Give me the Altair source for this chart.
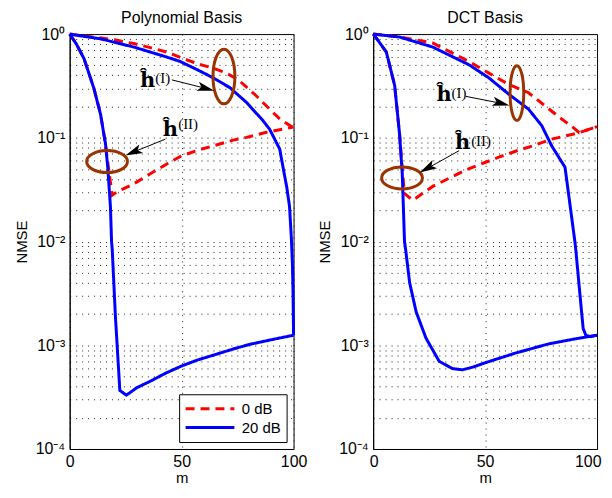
import altair as alt
import pandas as pd

# ---------------- data ----------------
# Polynomial basis
poly_20_I_m = [0, 5, 13.8, 28.6, 43.4, 49.3, 58.2, 64.1, 71.6, 79, 86.4, 89.3, 93.8, 95.3, 97, 98.2, 99, 99.5, 99.8, 100]
poly_20_I_v = [1, .96, .90, .75, .60, .545, .44, .378, .304, .219, .146, .121, .078, .052, .033, .0217, .011, .006, .003, .00125]
poly_20_II_m = [0, 3, 6.4, 10.8, 13.8, 16, 17, 18.2, 18.7, 19, 20.4, 22.4, 25.3, 30, 36, 43, 49.9, 57, 65.6, 73, 80.4, 90, 100]
poly_20_II_v = [1, .8, .58, .30, .168, .087, .052, .0217, .01, .0084, .00194, .000367, .00033, .00039, .00045, .00054, .00063, .00072, .00082, .00092, .00102, .00113, .00125]
poly_0_I_m = [0, 10, 20, 28.6, 36, 43.4, 52.3, 58, 64.1, 70, 75.2, 83.4, 89.3, 93.8, 100]
poly_0_I_v = [1, .94, .88, .81, .74, .67, .565, .51, .47, .42, .364, .253, .189, .152, .125]
poly_0_II_m = [0, 3, 6.4, 10.8, 13.8, 16, 17, 18, 19, 21, 28.6, 36, 43.4, 50, 58.2, 62.7, 73, 79, 87.9, 100]
poly_0_II_v = [1, .8, .58, .30, .168, .087, .058, .04, .028, .03, .036, .045, .056, .067, .077, .082, .095, .101, .113, .127]

# DCT basis
dct_20_I_m = [0, 11.8, 26.6, 42.8, 51.7, 60.6, 69.4, 75.3, 79.7, 85.7, 88, 90.1, 90.5, 92.3, 93.8, 95, 97, 100]
dct_20_I_v = [1, .936, .75, .506, .378, .263, .189, .131, .084, .052, .022, .01, .0084, .0032, .00145, .00125, .00121, .00125]
dct_20_II_m = [0, 2, 5.9, 9.6, 11.8, 13, 14, 14.5, 16.3, 19.2, 23.6, 29.5, 35.4, 39.9, 45, 50.2, 63.5, 78.3, 90, 100]
dct_20_II_v = [1, .88, .67, .32, .108, .045, .01, .0084, .004, .0021, .00117, .0007, .000596, .00058, .00062, .00068, .00084, .00103, .00115, .00125]
dct_0_I_m = [0, 11.8, 26.6, 42.8, 51.7, 60.6, 69.4, 76.8, 84.2, 90.1, 92, 96, 100]
dct_0_I_v = [1, .94, .82, .545, .42, .327, .272, .203, .152, .122, .112, .12, .128]
dct_0_II_m = [0, 2, 5.9, 9.6, 11.8, 13, 13.3, 14, 17.7, 26.6, 41.4, 56.1, 65, 70.9, 79.7, 85.7, 92, 100]
dct_0_II_v = [1, .88, .67, .32, .108, .05, .042, .029, .025, .034, .049, .065, .076, .083, .097, .104, .112, .128]

snr_labels = ["0 dB", "20 dB"]
panel_titles = ["Polynomial Basis", "DCT Basis"]
y_major = [1e-4, 1e-3, 1e-2, 1e-1, 1]
y_major_text = ["10\u207b\u2074", "10\u207b\u00b3", "10\u207b\u00b2", "10\u207b\u00b9", "10\u2070"]
x_ticks = [0, 50, 100]

# annotations: ellipse centres, text anchors, arrows (data coordinates)
poly_ell_I = (68.9, 0.39)
poly_ell_II = (16.7, 0.059)
dct_ell_I = (64.2, 0.27)
dct_ell_II = (12.9, 0.041)
poly_txt = [("I", 34.8, 0.349, 41.6, 0.375), ("II", 45.0, 0.119, 52.9, 0.135)]
dct_txt = [("I", 31.7, 0.256, 38.3, 0.27), ("II", 40.0, 0.0887, 48.2, 0.0936)]
poly_arrows = [(45.6, 0.362, 60.9, 0.299, 105), (42.7, 0.097, 28.4, 0.0728, 247)]
dct_arrows = [(41.4, 0.251, 57.2, 0.215, 104), (38.4, 0.0752, 24.2, 0.0507, 241)]

# ---------------- styling ----------------
FONT = "Liberation Sans"
RED, BLUE, BROWN = "#ff0000", "#0000ff", "#993300"
ARROW = "M0,-1 L0.55,1 L0,0.55 L-0.55,1 Z"


def ellipse_path(rx, ry):
    return (f"M0,{-ry} A{rx},{ry} 0 1,1 0,{ry} A{rx},{ry} 0 1,1 0,{-ry} Z")


y_minor = []
for e in [1e-4, 1e-3, 1e-2, 1e-1]:
    for k in range(1, 10):
        y_minor.append(round(k * e, 6))
y_minor.append(1)

label_expr = "''"
for val, txt in zip(y_major, y_major_text):
    label_expr = f"abs(datum.value - {val}) < {val}*1e-3 ? '{txt}' : ({label_expr})"

x_scale = alt.Scale(domain=[0, 100], nice=False, zero=False)
y_scale = alt.Scale(type="log", domain=[1e-4, 1], nice=False)


def curves_df(parts):
    rows = []
    for snr, name, ms, vs in parts:
        for m, v in zip(ms, vs):
            rows.append({"m": m, "nmse": v, "snr": snr, "curve": snr + name})
    return pd.DataFrame(rows)


def panel(title, df, ell_I, ell_II, rx_I, texts, arrows, show_legend, flush):
    if show_legend:
        leg = alt.Legend(title=None, orient="bottom-right", offset=7, symbolType="stroke",
                         symbolSize=2400, symbolStrokeWidth=3, labelFont=FONT, labelFontSize=15,
                         fillColor="white", strokeColor="black", padding=5, rowPadding=0,
                         clipHeight=19, labelOffset=6)
    else:
        leg = None
    xkw = dict(labelFlush=True, labelFlushOffset=4) if flush else dict(labelFlush=False)
    xax = alt.Axis(values=x_ticks, title="m", grid=True, gridDash=[1, 5], gridColor="#222",
                   ticks=False, labelFont=FONT, labelFontSize=16, labelPadding=5,
                   titleFont=FONT, titleFontSize=15, titleFontWeight="normal", titlePadding=1,
                   domainColor="black", **xkw)
    yax = alt.Axis(values=y_minor, labelExpr=label_expr, labelOverlap=False, title="NMSE",
                   grid=True, gridDash=[1, 5], gridColor="#222", ticks=False,
                   labelFont=FONT, labelFontSize=16, labelPadding=5,
                   titleFont=FONT, titleFontSize=15, titleFontWeight="normal", titlePadding=6,
                   domainColor="black")
    lines = alt.Chart(df).mark_line(strokeWidth=3).encode(
        x=alt.X("m:Q", scale=x_scale, axis=xax),
        y=alt.Y("nmse:Q", scale=y_scale, axis=yax),
        color=alt.Color("snr:N", scale=alt.Scale(domain=snr_labels, range=[RED, BLUE]), legend=leg),
        strokeDash=alt.StrokeDash("snr:N", scale=alt.Scale(domain=snr_labels, range=[[9, 6], [1, 0]]), legend=leg),
        detail="curve:N",
    )
    eI = alt.Chart(pd.DataFrame([{"m": ell_I[0], "nmse": ell_I[1]}])).mark_point(
        shape=ellipse_path(rx_I, 1), size=3025, filled=False, stroke=BROWN, strokeWidth=3, opacity=1
    ).encode(x=alt.X("m:Q", scale=x_scale), y=alt.Y("nmse:Q", scale=y_scale))
    eII = alt.Chart(pd.DataFrame([{"m": ell_II[0], "nmse": ell_II[1]}])).mark_point(
        shape=ellipse_path(1, 0.54), size=1681, filled=False, stroke=BROWN, strokeWidth=3, opacity=1
    ).encode(x=alt.X("m:Q", scale=x_scale), y=alt.Y("nmse:Q", scale=y_scale))
    adf = pd.DataFrame([{"m": a[0], "nmse": a[1], "m2": a[2], "nmse2": a[3], "ang": a[4]} for a in arrows])
    arr_line = alt.Chart(adf).mark_rule(color="black", strokeWidth=1).encode(
        x=alt.X("m:Q", scale=x_scale), y=alt.Y("nmse:Q", scale=y_scale), x2="m2:Q", y2="nmse2:Q")
    arr_head = alt.Chart(adf).mark_point(shape=ARROW, size=300, filled=True, color="black", opacity=1).encode(
        x=alt.X("m2:Q", scale=x_scale), y=alt.Y("nmse2:Q", scale=y_scale), angle=alt.Angle("ang:Q", scale=None))
    tdf = pd.DataFrame([{"m": t[1], "nmse": t[2], "m2": t[3], "nmse2": t[4], "sup": f"({t[0]})", "h": "\u0125"} for t in texts])
    h_txt = alt.Chart(tdf).mark_text(font="DejaVu Serif", fontWeight="bold", fontSize=21, color="black").encode(
        x=alt.X("m:Q", scale=x_scale), y=alt.Y("nmse:Q", scale=y_scale), text="h:N")
    s_txt = alt.Chart(tdf).mark_text(font="Liberation Serif", fontSize=15, color="black").encode(
        x=alt.X("m2:Q", scale=x_scale), y=alt.Y("nmse2:Q", scale=y_scale), text="sup:N")
    return alt.layer(lines, eI, eII, arr_line, arr_head, h_txt, s_txt).properties(
        width=225, height=417,
        title=alt.TitleParams(title, font=FONT, fontSize=16, fontWeight="normal", offset=0))


poly_df = curves_df([
    ("0 dB", "I", poly_0_I_m, poly_0_I_v), ("0 dB", "II", poly_0_II_m, poly_0_II_v),
    ("20 dB", "I", poly_20_I_m, poly_20_I_v), ("20 dB", "II", poly_20_II_m, poly_20_II_v)])
dct_df = curves_df([
    ("0 dB", "I", dct_0_I_m, dct_0_I_v), ("0 dB", "II", dct_0_II_m, dct_0_II_v),
    ("20 dB", "I", dct_20_I_m, dct_20_I_v), ("20 dB", "II", dct_20_II_m, dct_20_II_v)])

left = panel(panel_titles[0], poly_df, poly_ell_I, poly_ell_II, 0.4, poly_txt, poly_arrows, True, False)
right = panel(panel_titles[1], dct_df, dct_ell_I, dct_ell_II, 0.25, dct_txt, dct_arrows, False, True)

chart = alt.hconcat(left, right, spacing=9).resolve_scale(
    color="independent", strokeDash="independent"
).resolve_legend(color="independent", strokeDash="independent").properties(
    padding={"left": 5, "top": 0, "right": 0, "bottom": 0}
).configure_view(stroke="black", strokeWidth=1)

chart.save("out.html", embed_options={"renderer": "svg", "actions": False})
